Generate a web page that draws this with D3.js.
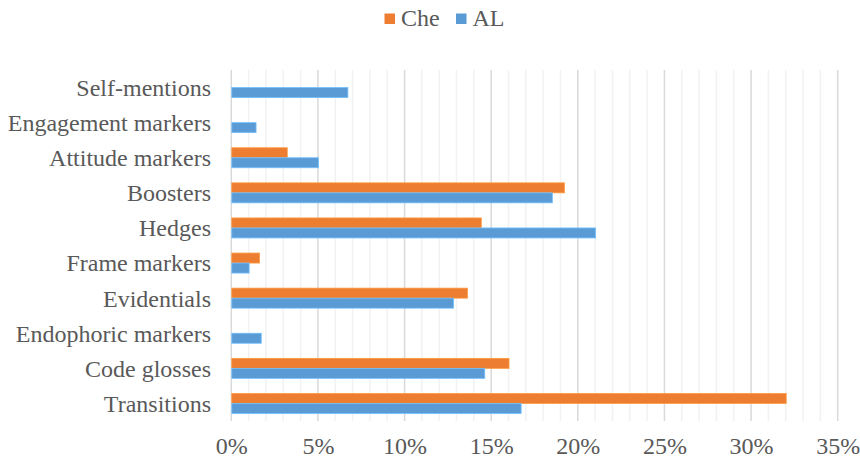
<!DOCTYPE html>
<html><head><meta charset="utf-8">
<script src="https://cdn.jsdelivr.net/npm/d3@7"></script>
<style>body{margin:0;background:#fff}</style>
</head><body><svg id="c" width="860" height="459"></svg>
<script>
const categories = ["Self-mentions","Engagement markers","Attitude markers","Boosters","Hedges","Frame markers","Evidentials","Endophoric markers","Code glosses","Transitions"];
const seriesNames = ["Che","AL"];
const cheValues = [0, 0, 3.2, 19.2, 14.4, 1.6, 13.6, 0, 16.0, 32.0];
const alValues = [6.7, 1.4, 5.0, 18.5, 21.0, 1.0, 12.8, 1.7, 14.6, 16.7];
const tickValues = [0,5,10,15,20,25,30,35];
const colors = {"Che":"#ED7D31","AL":"#5B9BD5"};

const svg = d3.select("#c");
const font = "'Times New Roman','Liberation Serif',serif";
const fs = 24;
const m = {left:231.3, right:837.7, top:70, bottom:421};
const x = d3.scaleLinear().domain([0,35]).range([m.left, m.right]);
const y = d3.scaleBand().domain(categories).range([m.top, m.bottom]).paddingInner(0.43).paddingOuter(0.215);
const sub = d3.scaleBand().domain(seriesNames).range([0, y.bandwidth()]);

// minor gridlines
svg.append("g").selectAll("line").data(d3.range(1,36).filter(v=>v%5!==0)).join("line")
  .attr("x1",d=>x(d)).attr("x2",d=>x(d)).attr("y1",m.top).attr("y2",m.bottom)
  .attr("stroke","#F2F2F2").attr("stroke-width",1.5);
// major
svg.append("g").selectAll("line").data(tickValues).join("line")
  .attr("x1",d=>x(d)).attr("x2",d=>x(d)).attr("y1",m.top).attr("y2",m.bottom)
  .attr("stroke","#D9D9D9").attr("stroke-width",1.5);

const data = categories.map((c,i)=>({cat:c, Che:cheValues[i], AL:alValues[i]}));
const g = svg.append("g");
data.forEach(d=>{
  seriesNames.forEach(s=>{
    if (d[s] > 0) {
      g.append("rect").attr("x",x(0)+0.5).attr("y",y(d.cat)+sub(s))
        .attr("width",x(d[s])-x(0)).attr("height",sub.bandwidth())
        .attr("fill",colors[s]).attr("stroke",d3.color(colors[s]).brighter(0.6)).attr("stroke-width",0.8);
    }
  });
});

// y labels
svg.append("g").selectAll("text").data(categories).join("text")
  .attr("x",211).attr("y",d=>y(d)+y.bandwidth()/2).attr("dy","0.35em")
  .attr("text-anchor","end").style("font-family",font).style("font-size",fs+"px").attr("fill","#595959")
  .text(d=>d);
// x labels
const xAxis = d3.axisBottom(x).tickValues(tickValues).tickFormat(d=>d+"%").tickSize(0).tickPadding(0);
const ax = svg.append("g").attr("transform",`translate(0,${m.bottom+24.5})`).call(xAxis);
ax.attr("font-family",null).attr("font-size",null);
ax.select(".domain").remove();
ax.selectAll("text").style("font-family",font).style("font-size",fs+"px").attr("fill","#595959").attr("dy","0.35em").attr("y",0);

// legend
const lg = svg.append("g");
const items = [{n:"Che",x:384.5},{n:"AL",x:456}];
items.forEach(it=>{
  lg.append("rect").attr("x",it.x).attr("y",13.5).attr("width",10.5).attr("height",10.5).attr("fill",colors[it.n]);
  lg.append("text").attr("x",it.x+16.5).attr("y",18).attr("dy","0.35em").style("font-family",font)
    .style("font-size",fs+"px").attr("fill","#595959").text(it.n);
});
</script></body></html>
